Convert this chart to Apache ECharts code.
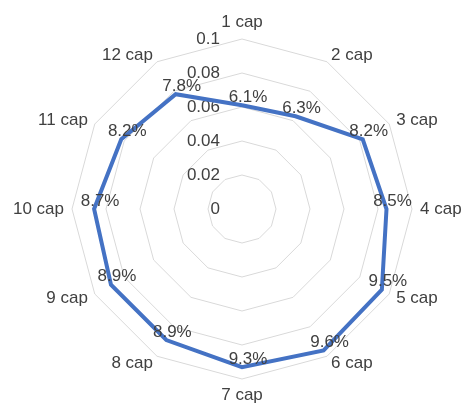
<!DOCTYPE html>
<html><head><meta charset="utf-8">
<script src="https://cdn.jsdelivr.net/npm/echarts@6/dist/echarts.min.js"></script>
<style>html,body{margin:0;padding:0;background:#fff}#c{width:463px;height:406px}</style>
</head><body><div id="c"></div>
<script>
const categories = ['1 cap','2 cap','3 cap','4 cap','5 cap','6 cap','7 cap','8 cap','9 cap','10 cap','11 cap','12 cap'];
const values = [0.061,0.063,0.082,0.085,0.095,0.096,0.093,0.089,0.089,0.087,0.082,0.078];
const axisMax = 0.1;
const axisStep = 0.02;

// ECharts lays radar indicators counter-clockwise; reorder to draw clockwise
const order = [0].concat(categories.map((_, i) => i).slice(1).reverse());
const catsCW = order.map(i => categories[i]);
const valsCW = order.map(i => values[i]);

const FONT = '"Liberation Sans", Arial, sans-serif';
const TXT = '#404040';
const FS = 17;
const center = [242, 209];
const R = 170;
const chart = echarts.init(document.getElementById('c'));
chart.setOption({
  animation: false,
  textStyle: {fontFamily: FONT},
  radar: {
    center: center, radius: R, startAngle: 90, splitNumber: 5, shape: 'polygon',
    indicator: catsCW.map(n => ({name: n, min: 0, max: axisMax})),
    axisName: {color: TXT, fontSize: FS, fontFamily: FONT},
    nameGap: 8,
    axisLine: {show: false},
    splitLine: {lineStyle: {color: '#d9d9d9', width: 1}},
    splitArea: {show: false},
    axisLabel: {show: false}
  },
  polar: {center: center, radius: R},
  angleAxis: {startAngle: 90, show: false, min: 0, max: 360},
  radiusAxis: {
    min: 0, max: axisMax, interval: axisStep,
    axisLine: {show: false}, axisTick: {show: false}, splitLine: {show: false},
    axisLabel: {color: TXT, fontSize: FS, fontFamily: FONT, margin: 22,
      formatter: v => String(+v.toFixed(2))}
  },
  series: [{
    type: 'radar',
    symbol: 'circle',
    symbolSize: 1,
    itemStyle: {color: '#4472C4', borderWidth: 0},
    lineStyle: {color: '#4472C4', width: 4, join: 'miter'},
    data: [{value: valsCW}],
    label: {show: true, position: 'inside', offset: [6, -8], color: TXT, fontSize: FS, fontFamily: FONT,
      formatter: p => (p.value * 100).toFixed(1) + '%'}
  }]
});
</script></body></html>
